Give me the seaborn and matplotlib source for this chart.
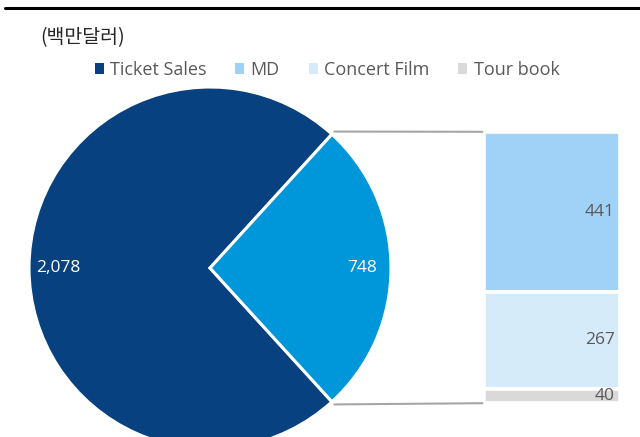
import matplotlib
matplotlib.use("Agg")
import matplotlib.pyplot as plt
import seaborn as sns
import numpy as np
from matplotlib.patches import Patch, ConnectionPatch
from matplotlib.lines import Line2D

sns.set_theme(style="white")
plt.rcParams['font.family'] = ['Open Sans', 'Noto Sans CJK KR', 'DejaVu Sans']

# Data
pie_labels = ["Ticket Sales", "Others"]
pie_values = [2078, 748]
bar_labels = ["MD", "Concert Film", "Tour book"]
bar_values = [441, 267, 40]
unit_label = "(백만달러)"

pie_colors = ["#08417F", "#0096DA"]
bar_colors = ["#A0D2F8", "#D6EBFA", "#D9D9D9"]
text_grey = "#595959"

W, H = 640, 437
fig = plt.figure(figsize=(W / 100, H / 100), dpi=100)

def px_axes(x0, y0, x1, y1):
    # pixel coords from top-left
    return fig.add_axes([x0 / W, 1 - y1 / H, (x1 - x0) / W, (y1 - y0) / H])

# Pie
cx, cy, R = 210, 268, 181
pax = px_axes(cx - R, cy - R, cx + R, cy + R)
total = sum(pie_values)
other_deg = pie_values[1] / total * 360
start = other_deg / 2
wedges, texts, autotexts = pax.pie(
    pie_values, colors=pie_colors, startangle=start, counterclock=True,
    radius=1.0, autopct=lambda p: f"{p * total / 100:,.0f}", pctdistance=0.84,
    wedgeprops=dict(edgecolor="white", linewidth=2.2),
    textprops=dict(color="white", fontsize=12.5))
pax.set_xlim(-1, 1)
pax.set_ylim(-1, 1)
pax.set_aspect("equal")
pax.axis("off")
for w in wedges:
    w.set_clip_on(False)

# Stacked bar
pad = 1.2
bax = px_axes(485 - pad, 133 - pad, 619 + pad, 402 + pad)
bar_total = sum(bar_values)
bottom = bar_total
bx = [0]
for lab, v, c in zip(bar_labels, bar_values, bar_colors):
    bottom -= v
    bax.bar(bx, [v], bottom=bottom, width=1.0, color=c, edgecolor="white", linewidth=2.6)
    bax.text(0.46, bottom + v / 2, f"{v:,}", ha="right", va="center",
             color=text_grey, fontsize=12.5)
bax.set_xlim(-0.5, 0.5)
bax.set_ylim(0, bar_total)
bax.axis("off")

# Connector lines
th = np.deg2rad(start)
for sgn, yb in [(1, bar_total), (-1, 0)]:
    p0 = (1.02 * np.cos(th), sgn * 1.02 * np.sin(th))
    con = ConnectionPatch(xyA=p0, coordsA=pax.transData,
                          xyB=(-0.51, yb), coordsB=bax.transData,
                          color="#A6A6A6", linewidth=1.5)
    fig.add_artist(con)

# Top rule
fig.add_artist(Line2D([5 / W, 1], [1 - 8 / H, 1 - 8 / H], color="black", linewidth=2.2,
                      transform=fig.transFigure))

# Unit label
fig.text(40 / W, 1 - 38 / H, unit_label, ha="left", va="center", fontsize=14,
         color="#262626", family=['Noto Sans CJK KR', 'DejaVu Sans'])

# Legend
leg_names = [pie_labels[0]] + bar_labels
leg_colors = [pie_colors[0]] + bar_colors
handles = [Patch(facecolor=c, edgecolor="none") for c in leg_colors]
fig.legend(handles, leg_names, loc="center", bbox_to_anchor=(327 / W, 1 - 70 / H),
           ncol=4, frameon=False, fontsize=13, labelcolor=text_grey,
           handlelength=0.5, handleheight=0.5, handletextpad=0.35, columnspacing=1.6)

fig.savefig("out.png", dpi=100)
